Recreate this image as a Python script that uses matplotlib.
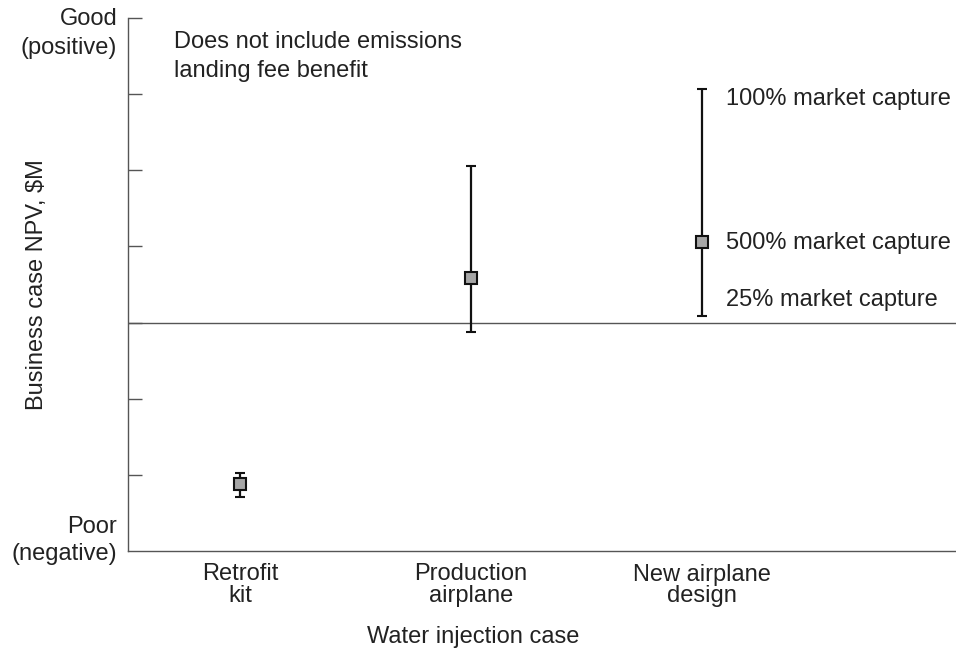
import matplotlib
matplotlib.use("Agg")
import matplotlib.pyplot as plt

plt.rcParams['font.family'] = ['Liberation Sans', 'DejaVu Sans']

categories = ["Retrofit\nkit", "Production\nairplane", "New airplane\ndesign"]
npv_mid = [-2.12, 0.59, 1.06]
npv_low = [-2.29, -0.12, 0.09]
npv_high = [-1.98, 2.05, 3.07]
annotations = ["100% market capture", "500% market capture", "25% market capture"]
annot_y = [2.93, 1.05, 0.30]

txt = '#222222'
FS = 17
fig = plt.figure(figsize=(9.56, 6.5), dpi=100)
ax = fig.add_axes([128/956, (650-551)/650, 828/956, (551-18)/650])

x = [1, 2, 3]
yerr = [[m - l for m, l in zip(npv_mid, npv_low)], [h - m for m, h in zip(npv_mid, npv_high)]]
ax.axhline(0, color='#555555', lw=1.0, zorder=1)
ax.errorbar(x, npv_mid, yerr=yerr, fmt='s', color='#111111', ecolor='#111111',
            elinewidth=1.6, capsize=3.5, capthick=1.6, markersize=8.5,
            markerfacecolor='#a6a6a6', markeredgecolor='#111111', markeredgewidth=1.5, zorder=3)

ax.set_xlim(1 - 112/231, 3 + 254/231)
ax.set_ylim(-3, 4)
for s in ['top', 'right']:
    ax.spines[s].set_visible(False)
for s in ['left', 'bottom']:
    ax.spines[s].set_color('#555555')
    ax.spines[s].set_linewidth(1.0)

ax.set_yticks([-2, -1, 0, 1, 2, 3, 4])
ax.set_yticklabels([])
ax.tick_params(axis='y', direction='in', length=10, width=1.0, color='#555555')
ax.set_xticks(x)
ax.set_xticklabels(categories, fontsize=FS, color=txt, linespacing=0.98)
ax.tick_params(axis='x', length=0, pad=9)

ax.text(-0.013, 3.80, "Good\n(positive)", transform=ax.get_yaxis_transform(), ha='right', va='center',
        fontsize=FS, color=txt, linespacing=1.4)
ax.text(-0.013, -2.86, "Poor\n(negative)", transform=ax.get_yaxis_transform(), ha='right', va='center',
        fontsize=FS, color=txt, linespacing=1.3)

ax.set_ylabel("Business case NPV, $M", fontsize=FS, color=txt, va='center')
ax.yaxis.set_label_coords(-0.11, 0.5)
ax.set_xlabel("Water injection case", fontsize=FS, color=txt, va='center')
ax.xaxis.set_label_coords((473 - 128) / 828, (551 - 637) / 533)

ax.text(0.055, 0.976, "Does not include emissions\nlanding fee benefit", transform=ax.transAxes,
        ha='left', va='top', fontsize=FS, color=txt, linespacing=1.45)

for t, yy in zip(annotations, annot_y):
    ax.text(3.105, yy, t, ha='left', va='center', fontsize=FS, color=txt)

fig.savefig("out.png", dpi=100)
